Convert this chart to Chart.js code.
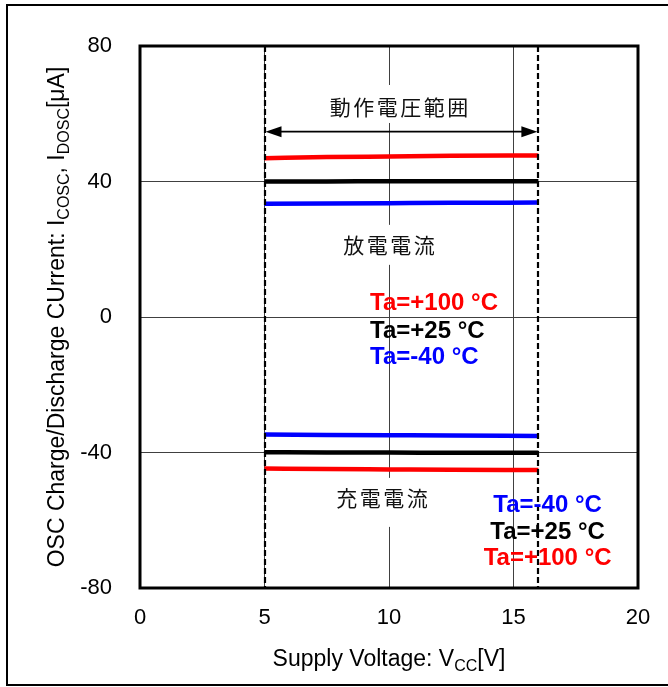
<!DOCTYPE html>
<html lang="ja">
<head>
<meta charset="utf-8">
<title>OSC Charge/Discharge Current</title>
<script src="https://cdn.jsdelivr.net/npm/chart.js"></script>
<style>
  html, body { margin: 0; padding: 0; background: #fff; overflow: hidden; }
  #wrap { width: 668px; height: 687px; }
</style>
</head>
<body>
<div id="wrap"><canvas id="myChart" width="668" height="687"></canvas></div>
<script>
// supply voltage points (V)
var vcc = [5, 7.5, 10, 12.5, 16];
// discharge current (uA)
var dis100 = [46.9, 47.2, 47.4, 47.6, 47.7];
var dis25  = [40.0, 40.0, 40.1, 40.1, 40.1];
var dis40  = [33.4, 33.5, 33.6, 33.7, 33.8];
// charge current (uA)
var chg40  = [-34.7, -34.8, -34.9, -35.0, -35.1];
var chg25  = [-39.9, -40.0, -40.0, -40.1, -40.1];
var chg100 = [-44.7, -44.9, -45.0, -45.1, -45.2];

var xTicks = [0, 5, 10, 15, 20];
var yTicks = [-80, -40, 0, 40, 80];
var rangeV = [5, 16]; // operating voltage range

var RED = '#ff0000', BLACK = '#000000', BLUE = '#0000ff';
var FONT = '"Liberation Sans", Arial, sans-serif';
var CJK = '"Noto Sans CJK JP", sans-serif';

function pts(ys) {
    return vcc.map(function (x, i) { return { x: x, y: ys[i] }; });
}
function ds(ys, color) {
    return { data: pts(ys), borderColor: color, borderWidth: 4.5, pointRadius: 0,
             cubicInterpolationMode: 'monotone', fill: false };
}

// annotation texts, placed in data units
var cjkLabels = [
    { text: '動作電圧範囲', x: 10.4, y: 62.0, top: 22, bottom: 16 },
    { text: '放電電流', x: 10.0, y: 21.3, top: 20, bottom: 20 },
    { text: '充電電流', x: 9.72, y: -53.4, top: 20, bottom: 29 }
];
var taUpper = [['Ta=+100 °C', RED, 4.0], ['Ta=+25 °C', BLACK, -4.2], ['Ta=-40 °C', BLUE, -11.9]];
var taLower = [['Ta=-40 °C', BLUE, -55.6], ['Ta=+25 °C', BLACK, -63.6], ['Ta=+100 °C', RED, -71.2]];
var arrowY = 54.7;

function spaced(ctx, text, cx, cy, adv) {
    var chars = Array.from(text);
    var start = cx - adv * chars.length / 2 + adv / 2;
    chars.forEach(function (c, i) { ctx.fillText(c, start + i * adv, cy); });
}

function pieces(ctx, parts, size) {
    var w = 0;
    parts.forEach(function (p) {
        ctx.font = (p[1] ? Math.round(size * 0.68) : size) + 'px ' + FONT;
        p.w = ctx.measureText(p[0]).width; w += p.w;
    });
    return w;
}
function drawPieces(ctx, parts, size, x0) {
    var x = x0;
    parts.forEach(function (p) {
        ctx.font = (p[1] ? Math.round(size * 0.68) : size) + 'px ' + FONT;
        ctx.fillText(p[0], x, p[1] ? size * 0.2 : 0);
        x += p.w;
    });
}

var decor = {
    id: 'decor',
    beforeDatasetsDraw: function (chart) {
        var ctx = chart.ctx, xs = chart.scales.x, ys = chart.scales.y;
        ctx.save();
        ctx.font = '21px ' + CJK;
        ctx.textAlign = 'center';
        ctx.textBaseline = 'middle';
        cjkLabels.forEach(function (l) {
            var cx = xs.getPixelForValue(l.x), cy = ys.getPixelForValue(l.y);
            var n = Array.from(l.text).length, w = n * 23.5;
            ctx.fillStyle = '#fff';
            ctx.fillRect(cx - w / 2 - 4, cy - l.top, w + 8, l.top + l.bottom);
            ctx.fillStyle = '#111';
            spaced(ctx, l.text, cx, cy, 23.5);
        });
        // double arrow for operating range
        var ay = ys.getPixelForValue(arrowY);
        var a1 = xs.getPixelForValue(rangeV[0]) + 1, a2 = xs.getPixelForValue(rangeV[1]) - 1;
        ctx.strokeStyle = '#000'; ctx.lineWidth = 1.8;
        ctx.beginPath(); ctx.moveTo(a1 + 10, ay); ctx.lineTo(a2 - 10, ay); ctx.stroke();
        ctx.fillStyle = '#000';
        ctx.beginPath(); ctx.moveTo(a1, ay); ctx.lineTo(a1 + 16, ay - 5.5); ctx.lineTo(a1 + 16, ay + 5.5); ctx.fill();
        ctx.beginPath(); ctx.moveTo(a2, ay); ctx.lineTo(a2 - 16, ay - 5.5); ctx.lineTo(a2 - 16, ay + 5.5); ctx.fill();
        ctx.restore();
    },
    afterDatasetsDraw: function (chart) {
        var ctx = chart.ctx, xs = chart.scales.x, ys = chart.scales.y, a = chart.chartArea;
        ctx.save();
        // dashed range limits
        ctx.strokeStyle = '#000'; ctx.lineWidth = 2.2; ctx.setLineDash([6, 3]);
        rangeV.forEach(function (v) {
            var px = Math.round(xs.getPixelForValue(v));
            ctx.beginPath(); ctx.moveTo(px, a.top); ctx.lineTo(px, a.bottom); ctx.stroke();
        });
        ctx.setLineDash([]);
        // temperature labels
        ctx.font = 'bold 24px ' + FONT;
        ctx.textBaseline = 'middle';
        ctx.textAlign = 'left';
        taUpper.forEach(function (t) {
            ctx.fillStyle = t[1];
            ctx.fillText(t[0], xs.getPixelForValue(9.24), ys.getPixelForValue(t[2]));
        });
        ctx.textAlign = 'center';
        taLower.forEach(function (t) {
            ctx.fillStyle = t[1];
            ctx.fillText(t[0], xs.getPixelForValue(16.37), ys.getPixelForValue(t[2]));
        });
        // plot frame
        ctx.strokeStyle = '#000'; ctx.lineWidth = 3;
        ctx.strokeRect(a.left, a.top, a.right - a.left, a.bottom - a.top);
        ctx.restore();
    },
    afterDraw: function (chart) {
        var ctx = chart.ctx, a = chart.chartArea;
        ctx.save();
        ctx.fillStyle = '#000';
        ctx.textAlign = 'left';
        ctx.textBaseline = 'alphabetic';
        // x axis title
        var xp = [['Supply Voltage: V', 0], ['CC', 1], ['[V]', 0]];
        var wx = pieces(ctx, xp, 23);
        ctx.save();
        ctx.translate((a.left + a.right) / 2, 666);
        drawPieces(ctx, xp, 23, -wx / 2);
        ctx.restore();
        // y axis title
        var yp = [['OSC Charge/Discharge CUrrent: I', 0], ['COSC', 1], [', I', 0], ['DOSC', 1], ['[μA]', 0]];
        var wy = pieces(ctx, yp, 23);
        ctx.save();
        ctx.translate(64, (a.top + a.bottom) / 2);
        ctx.rotate(-Math.PI / 2);
        drawPieces(ctx, yp, 23, -wy / 2);
        ctx.restore();
        // outer border
        ctx.strokeStyle = '#000'; ctx.lineWidth = 2;
        ctx.strokeRect(7, 5, 700, 680);
        ctx.restore();
    }
};

var ctx = document.getElementById('myChart').getContext('2d');
var myChart = new Chart(ctx, {
    type: 'line',
    data: {
        datasets: [ds(dis100, RED), ds(dis25, BLACK), ds(dis40, BLUE),
                   ds(chg40, BLUE), ds(chg25, BLACK), ds(chg100, RED)]
    },
    options: {
        responsive: false,
        animation: false,
        layout: { padding: { top: 46, right: 30, bottom: 0, left: 0 } },
        plugins: { legend: { display: false }, tooltip: { enabled: false } },
        scales: {
            x: {
                type: 'linear', min: 0, max: 20,
                afterBuildTicks: function (s) { s.ticks = xTicks.map(function (v) { return { value: v }; }); },
                afterFit: function (s) { s.height = 99; },
                ticks: { color: '#000', font: { family: FONT, size: 22 }, padding: 17 },
                grid: { color: '#404040', lineWidth: 1, drawTicks: false },
                border: { display: false }
            },
            y: {
                type: 'linear', min: -80, max: 80,
                afterBuildTicks: function (s) { s.ticks = yTicks.map(function (v) { return { value: v }; }); },
                afterFit: function (s) { s.width = 140; },
                ticks: { color: '#000', font: { family: FONT, size: 22 }, padding: 28 },
                grid: { color: '#404040', lineWidth: 1, drawTicks: false },
                border: { display: false }
            }
        }
    },
    plugins: [decor]
});
</script>
</body>
</html>
